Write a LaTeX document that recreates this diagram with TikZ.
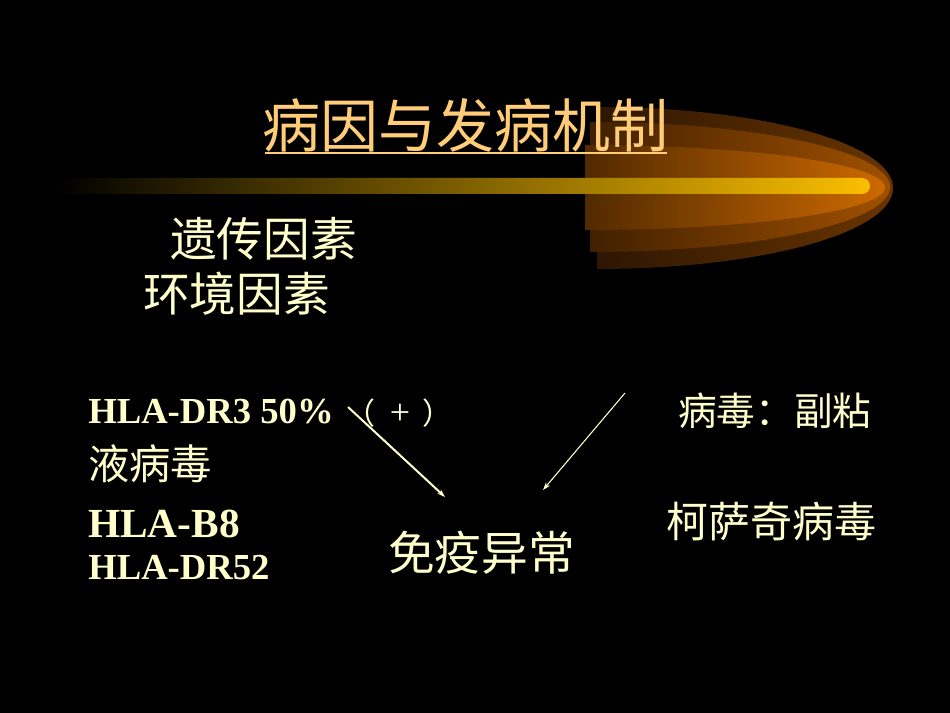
\documentclass[tikz,border=0pt]{standalone}
\usepackage{fontspec}
\setmainfont{Liberation Serif}
\newfontfamily\cjk{Noto Sans CJK SC}
\usetikzlibrary{arrows.meta,calc}
\definecolor{titlecol}{RGB}{255,204,120}
\definecolor{cream}{RGB}{255,255,204}
\definecolor{gold}{RGB}{250,190,0}
\definecolor{brA1}{RGB}{45,22,2}
\definecolor{brA2}{RGB}{105,52,0}
\definecolor{brB1}{RGB}{65,32,0}
\definecolor{brB2}{RGB}{160,80,0}
\definecolor{brC1}{RGB}{82,42,0}
\definecolor{brC2}{RGB}{205,105,0}
\tikzset{
  txt/.style={inner sep=0pt, anchor=base west, text=cream},
  cjktxt/.style={txt, font=\cjk},
  latintxt/.style={txt, font=\bfseries},
  arr/.style={draw=cream, -{Stealth[length=6pt,width=4pt]}},
}
\begin{document}
\begin{tikzpicture}[x=0.75pt,y=-0.75pt]
\useasboundingbox (0,0) rectangle (950,713);
\fill[black] (0,0) rectangle (950,713);
% bullet layers
\shade[left color=brA1, right color=brA2] (597,107) arc[start angle=-90,end angle=90,x radius=296,y radius=81] -- cycle;
\shade[left color=brB1, right color=brB2] (590,122) arc[start angle=-90,end angle=90,x radius=300,y radius=65] -- cycle;
\shade[left color=brC1, right color=brC2] (585,145) arc[start angle=-90,end angle=90,x radius=300,y radius=42.5] -- cycle;
% bar
\shade[left color=black, right color=gold, rounded corners=6pt] (55,178) rectangle (870,194);
% title
\node[cjktxt, text=titlecol, font=\cjk\fontsize{43.5pt}{48pt}\selectfont] (title) at (262,148) {病因与发病机制};
\draw[titlecol, line width=1.6pt] ($(title.base west)+(3,5)$) -- ($(title.base east)+(-2,5)$);
% body text
\node[cjktxt, font=\cjk\fontsize{35pt}{38pt}\selectfont] (gen) at (170,257) {遗传因素};
\node[cjktxt, font=\cjk\fontsize{35pt}{38pt}\selectfont] (env) at (143,311) {环境因素};
\node[latintxt, font=\bfseries\fontsize{27.5pt}{30pt}\selectfont] (dr3) at (88,423) {HLA-DR3 50\%};
\node[txt, font=\fontsize{27pt}{30pt}\selectfont] (plus) at (345,424) {{\cjk\fontsize{22.5pt}{26pt}\selectfont （}\hspace{11pt}+\hspace{9.5pt}{\cjk\fontsize{22.5pt}{26pt}\selectfont ）}};
\node[cjktxt, font=\cjk\fontsize{31pt}{34pt}\selectfont] (yebd) at (88,479) {液病毒};
\node[latintxt, font=\bfseries\fontsize{31pt}{34pt}\selectfont] (b8) at (88,537) {HLA-B8};
\node[latintxt, font=\bfseries\fontsize{27.5pt}{30pt}\selectfont] (dr52) at (88,579) {HLA-DR52};
\node[cjktxt, font=\cjk\fontsize{35pt}{38pt}\selectfont] (immune) at (388,570) {免疫异常};
\node[cjktxt, font=\cjk\fontsize{29pt}{32pt}\selectfont] (virus) at (678,425) {病毒：副粘};
\node[cjktxt, font=\cjk\fontsize{31.5pt}{34pt}\selectfont] (coxs) at (666,537) {柯萨奇病毒};
% arrows
\coordinate (a1s) at (348,407);
\coordinate (a1e) at (445,497);
\coordinate (a2s) at (625,393);
\coordinate (a2e) at (543,490);
\draw[arr, line width=1.5pt] (a1s) -- (a1e);
\draw[arr, line width=0.8pt] (a2s) -- (a2e);
\end{tikzpicture}
\end{document}
